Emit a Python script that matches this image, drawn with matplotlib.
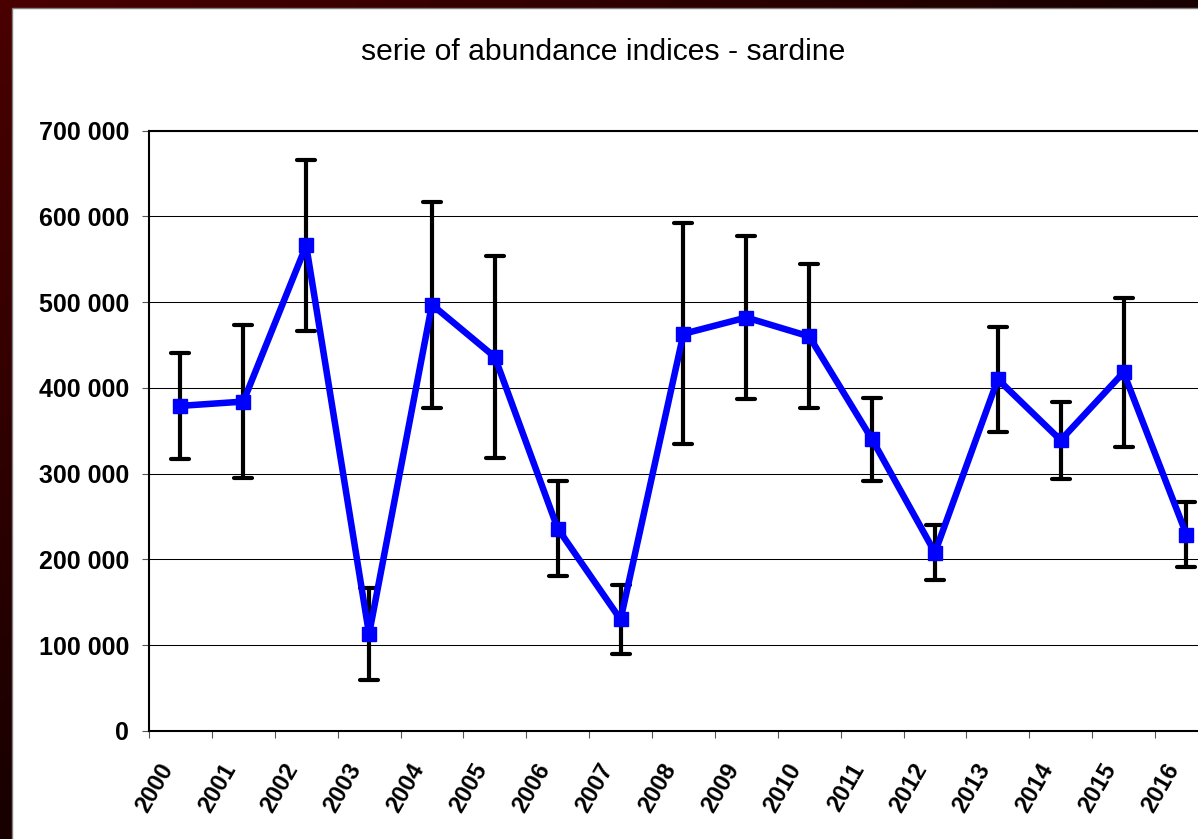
import numpy as np
import matplotlib
matplotlib.use("Agg")
import matplotlib.pyplot as plt
from matplotlib.patches import Rectangle
from matplotlib.markers import MarkerStyle
from matplotlib.transforms import ScaledTranslation

plt.rcParams["font.family"] = ["Liberation Sans", "DejaVu Sans"]

# yearly abundance index for sardine, with the +/- error used for the bars
years = ["2000", "2001", "2002", "2003", "2004", "2005", "2006", "2007", "2008",
         "2009", "2010", "2011", "2012", "2013", "2014", "2015", "2016"]
abundance = [379000, 384000, 566000, 113000, 497000, 436000, 236000, 130000, 463000,
             482000, 460000, 340000, 208000, 410000, 339000, 418000, 229000]
errors = [62000, 89000, 100000, 54000, 120000, 118000, 55000, 40000, 129000,
          95000, 84000, 48000, 32000, 61000, 45000, 87000, 38000]
yticks = [0, 100000, 200000, 300000, 400000, 500000, 600000, 700000]

W, H = 1198, 839
fig = plt.figure(figsize=(W / 100, H / 100), dpi=100)

# dark red frame behind the white chart area
bg = fig.add_axes([0, 0, 1, 1], zorder=0)
xx, yy = np.meshgrid(np.linspace(0, 1, 300), np.linspace(0, 1, 210))
red = (74 - 50 * np.clip(xx + yy, 0, 1)) / 255
bg.imshow(np.dstack([red, np.zeros_like(red), np.zeros_like(red)]),
          extent=[0, 1, 0, 1], aspect="auto", origin="upper")
bg.add_patch(Rectangle((12 / W, -0.01), 1, (H - 8) / H + 0.01, facecolor="white",
                       edgecolor="#7f7f7f", lw=1))
bg.set_xlim(0, 1); bg.set_ylim(0, 1)
bg.axis("off")

# plot area runs past the right edge of the figure
cat_w = 62.875
ax = fig.add_axes([149 / W, (H - 731) / H, 17 * cat_w / W, (731 - 130.5) / H], zorder=2)
ax.set_facecolor("none")

x = np.arange(len(years))
_, caps, bars = ax.errorbar(x, abundance, yerr=errors, fmt="none", ecolor="black",
                            elinewidth=3, capsize=6.5, capthick=3, zorder=3)
for b in bars:
    b.set_capstyle("round")
for c in caps:
    c.set_marker(MarkerStyle("_", capstyle="round"))
ax.plot(x, abundance, color="#0000ff", lw=4.7, marker="s", ms=10.5, mec="#0000ff",
        solid_joinstyle="round", zorder=4)

ax.set_xlim(-0.5, len(years) - 0.5)
ax.set_ylim(0, 700000)

ax.set_yticks(yticks)
ax.set_yticklabels([f"{v:,}".replace(",", " ") for v in yticks],
                   fontsize=18, fontweight="bold")
ax.tick_params(axis="y", direction="out", length=5, width=0.8, color="#555555", pad=9.4)
ax.yaxis.grid(True, color="black", lw=0.75)
ax.set_axisbelow(True)

ax.set_xticks(x)
ax.set_xticklabels(years, rotation=60, ha="right", va="top", fontsize=17,
                   fontweight="bold")
ax.tick_params(axis="x", which="major", length=0, pad=20.5)
ax.set_xticks(np.arange(-0.5, len(years), 1), minor=True)
ax.tick_params(axis="x", which="minor", direction="out", length=5, width=0.8,
               color="#555555")
shift = ScaledTranslation(-3 / 100, 0, fig.dpi_scale_trans)
for lbl in ax.get_xticklabels():
    lbl.set_transform(lbl.get_transform() + shift)

for side in ("left", "bottom", "top"):
    ax.spines[side].set_color("black")
    ax.spines[side].set_linewidth(1.5)
ax.spines["right"].set_visible(False)

fig.text(603.5 / W, (H - 60) / H, "serie of abundance indices - sardine",
         ha="center", va="baseline", fontsize=21.7)

fig.savefig("out.png", dpi=100)
